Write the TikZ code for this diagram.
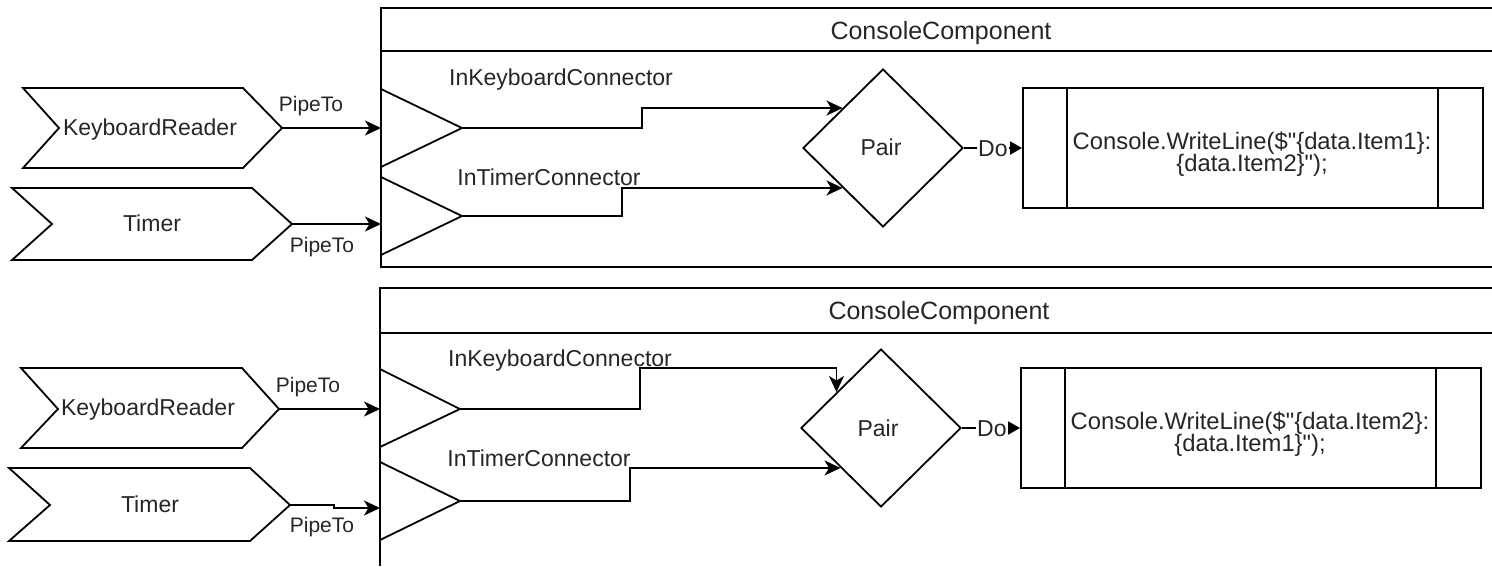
\documentclass[tikz,border=0pt]{standalone}
\usepackage{fontspec}
\setmainfont{Liberation Sans}
\newfontfamily\codefont[Ligatures=TeXOff]{Liberation Sans}
\usetikzlibrary{shapes.geometric,arrows.meta,calc}
\begin{document}
\begin{tikzpicture}[x=1pt,y=-1pt,
  outline/.style={line width=1.8pt, line join=miter},
  lbl/.style={text=black!85, inner sep=0pt, font=\fontsize{23}{25}\selectfont},
  codelbl/.style={lbl, font=\codefont\fontsize{23.8}{25}\selectfont},
  pipelbl/.style={lbl, font=\fontsize{21}{23}\selectfont},
  titlelbl/.style={lbl, font=\fontsize{25}{27}\selectfont},
  flow/.style={line width=1.8pt, -{Stealth[length=16pt,width=15pt,inset=4.5pt]}},
  doflow/.style={line width=1.8pt, -{Triangle[length=12pt,width=13pt]}},
  pairshape/.style={diamond, draw, line width=1.8pt, minimum width=160pt, minimum height=158pt, inner sep=0pt, aspect=1},
  procbox/.style={draw, line width=1.8pt, minimum width=460pt, minimum height=120pt, inner sep=0pt},
  dolbl/.style={lbl, anchor=base west, fill=white, inner sep=1pt},
]
\useasboundingbox (0,0) rectangle (1492,566);
\fill[white] (0,0) rectangle (1492,566);

% ================= top panel =================
\draw[outline] (1492,8) -- (381,8) -- (381,267) -- (1492,267);
\draw[outline] (381,51) -- (1492,51);
\node[titlelbl, anchor=base] (title1) at (941,39) {ConsoleComponent};

\draw[outline] (23,88) -- (243,88) -- (282,128) -- (243,168) -- (23,168) -- (59,128) -- cycle;
\coordinate (kr1) at (282,128);
\node[lbl, anchor=base] (kr1t) at (150,135) {KeyboardReader};
\draw[outline] (12,188) -- (252,188) -- (292,224) -- (252,260) -- (12,260) -- (52,224) -- cycle;
\coordinate (tm1) at (292,224);
\node[lbl, anchor=base] (tm1t) at (152,231) {Timer};

\coordinate (in1a) at (381,128);
\coordinate (in1b) at (381,224);
\draw[flow] (kr1) -- (in1a);
\draw[flow] (tm1) -- (in1b);
\node[pipelbl, anchor=base] (pt1a) at (311,111) {PipeTo};
\node[pipelbl, anchor=base] (pt1b) at (322,252) {PipeTo};

\draw[outline] (381,89) -- (462,128) -- (381,167);
\coordinate (ik1) at (462,128);
\draw[outline] (381,177) -- (462,216) -- (381,255);
\coordinate (it1) at (462,216);
\node[lbl, anchor=base] (ik1t) at (561,85) {InKeyboardConnector};
\node[lbl, anchor=base] (it1t) at (549,185) {InTimerConnector};

\node[pairshape] (pair1) at (883,148) {};
\node[lbl, anchor=base] (pair1t) at (881,155) {Pair};
\coordinate (p1a) at ($(pair1.west)!0.5!(pair1.north)$);
\coordinate (p1b) at ($(pair1.west)!0.5!(pair1.south)$);
\draw[flow] (ik1) -- (642,128) |- (p1a);
\draw[flow] (it1) -- (622,216) |- (p1b);

\node[procbox] (proc1) at (1253,148) {};
\draw[outline] ([xshift=45pt]proc1.north west) -- ([xshift=45pt]proc1.south west);
\draw[outline] ([xshift=-46pt]proc1.north east) -- ([xshift=-46pt]proc1.south east);
\draw[doflow] (pair1.east) -- (proc1.west);
\node[dolbl] (do1) at (977,156) {Do};
\node[codelbl, anchor=base] (code1a) at (1252,149) {Console.WriteLine(\$"\{data.Item1\}:};
\node[codelbl, anchor=base] (code1b) at (1252,171) {\{data.Item2\}");};

% ================= bottom panel =================
\draw[outline] (1492,288) -- (380,288) -- (380,566);
\draw[outline] (380,333) -- (1492,333);
\node[titlelbl, anchor=base] (title2) at (939,319) {ConsoleComponent};

\draw[outline] (21,368) -- (242,368) -- (279,409) -- (242,448) -- (21,448) -- (58,409) -- cycle;
\coordinate (kr2) at (279,409);
\node[lbl, anchor=base] (kr2t) at (148,415) {KeyboardReader};
\draw[outline] (9,468) -- (250,468) -- (290,505) -- (250,541) -- (9,541) -- (50,505) -- cycle;
\coordinate (tm2) at (290,505);
\node[lbl, anchor=base] (tm2t) at (150,512) {Timer};

\coordinate (in2a) at (380,409);
\coordinate (in2b) at (380,508);
\draw[flow] (kr2) -- (in2a);
\draw[flow] (tm2) -- (334,505) -- (334,508) -- (in2b);
\node[pipelbl, anchor=base] (pt2a) at (308,392) {PipeTo};
\node[pipelbl, anchor=base] (pt2b) at (322,532) {PipeTo};

\draw[outline] (380,369) -- (460,409) -- (380,447);
\coordinate (ik2) at (460,409);
\draw[outline] (380,462) -- (460,501) -- (380,540);
\coordinate (it2) at (460,501);
\node[lbl, anchor=base] (ik2t) at (560,366) {InKeyboardConnector};
\node[lbl, anchor=base] (it2t) at (539,466) {InTimerConnector};

\node[pairshape] (pair2) at (881,428) {};
\node[lbl, anchor=base] (pair2t) at (878,436) {Pair};
\coordinate (p2a) at ($(pair2.west)!0.45!(pair2.north)$);
\coordinate (p2b) at ($(pair2.west)!0.5!(pair2.south)$);
\draw[flow] (ik2) -- (640,409) -- (640,368) -| (p2a);
\draw[flow] (it2) -- (630,501) |- (p2b);

\node[procbox] (proc2) at (1251,428) {};
\draw[outline] ([xshift=45pt]proc2.north west) -- ([xshift=45pt]proc2.south west);
\draw[outline] ([xshift=-46pt]proc2.north east) -- ([xshift=-46pt]proc2.south east);
\draw[doflow] (pair2.east) -- (proc2.west);
\node[dolbl] (do2) at (976,436) {Do};
\node[codelbl, anchor=base] (code2a) at (1250,429) {Console.WriteLine(\$"\{data.Item2\}:};
\node[codelbl, anchor=base] (code2b) at (1250,451) {\{data.Item1\}");};
\end{tikzpicture}
\end{document}
